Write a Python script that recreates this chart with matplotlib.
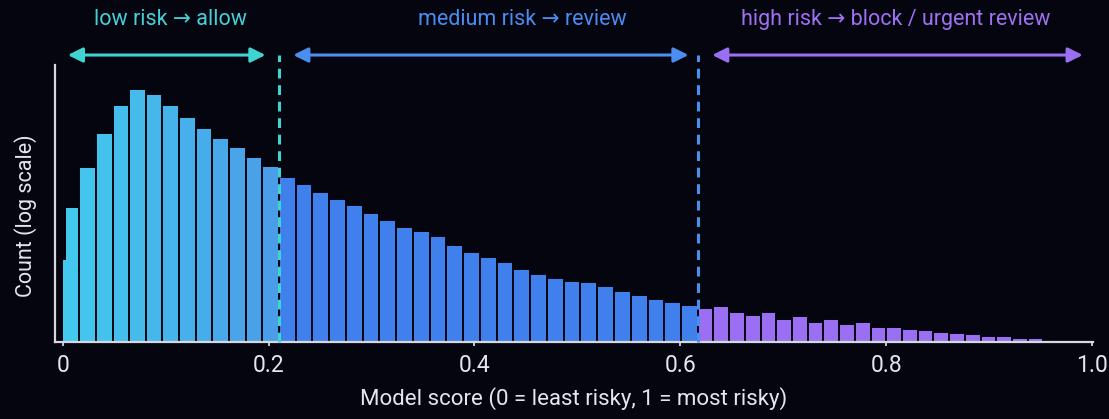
import numpy as np
import matplotlib
matplotlib.use("Agg")
import matplotlib.pyplot as plt
from matplotlib.ticker import NullLocator, FixedLocator
from matplotlib.colors import to_rgb

# ---------------- data ----------------
low_threshold = 0.21
high_threshold = 0.617
high_last_edge = 0.968          # right edge of the last non-empty bin
first_bin_split = 0.003         # the first bin is drawn as a thin sliver + bar
first_sliver_count = 3020

low_counts = [25900, 146000, 585000, 1900000, 3640000, 2960000, 1900000,
              1170000, 738000, 475000, 335000, 216000, 150000]
medium_counts = [94000, 70300, 51600, 38100, 29700, 21000, 15900, 12100,
                 10200, 8200, 5600, 4160, 3470, 2750, 2100, 1690, 1450,
                 1280, 1200, 1030, 830, 705, 597, 527, 466]
high_counts = [406, 447, 344, 307, 344, 257, 295, 230, 257, 209, 227, 189,
               184, 169, 165, 153, 144, 138, 128, 130, 117, 118, 109]

xtick_values = [0, 0.2, 0.4, 0.6, 0.8, 1.0]
xtick_labels = ["0", "0.2", "0.4", "0.6", "0.8", "1.0"]

region_labels = ["low risk \u2192 allow", "medium risk \u2192 review",
                 "high risk \u2192 block / urgent review"]

# ---------------- style ----------------
BG = "#04050f"
LOW_C0 = "#42c9ed"
LOW_C1 = "#4a9de8"
MED_C = "#4080ec"
HIGH_C = "#9a6ff2"
LOW_LINE = "#3fd4d2"
MED_LINE = "#4a8ff0"
LOW_TXT = "#45cfd6"
MED_TXT = "#4a8cf2"
HIGH_TXT = "#a070f2"
FG = "#e4e6ee"
FONT = ["Roboto", "DejaVu Sans"]

plt.rcParams["font.family"] = FONT

fig = plt.figure(figsize=(11.09, 4.19), dpi=100, facecolor=BG)
ax = fig.add_axes([55 / 1109, 1 - 342 / 419, (1093 - 55) / 1109, (342 - 65) / 419])
ax.set_facecolor(BG)

# bin edges
low_edges = np.linspace(0, low_threshold, len(low_counts) + 1)
med_edges = np.linspace(low_threshold, high_threshold, len(medium_counts) + 1)
high_edges = np.linspace(high_threshold, high_last_edge, len(high_counts) + 1)

c0 = np.array(to_rgb(LOW_C0))
c1 = np.array(to_rgb(LOW_C1))
n_low = len(low_counts)
low_colors = [tuple(c0 + (c1 - c0) * i / (n_low - 1)) for i in range(n_low)]

ekw = dict(align="edge", edgecolor=BG, linewidth=1.4)

# first bin: thin sliver + main part, drawn without a gap between them
ax.bar(low_edges[0], first_sliver_count, width=first_bin_split - low_edges[0],
       color=low_colors[0], align="edge", linewidth=0)
ax.bar(first_bin_split, low_counts[0], width=low_edges[1] - first_bin_split,
       color=low_colors[0], align="edge", linewidth=0)
ax.bar(low_edges[1:-1], low_counts[1:], width=np.diff(low_edges)[1:],
       color=low_colors[1:], **ekw)
ax.bar(med_edges[:-1], medium_counts, width=np.diff(med_edges), color=MED_C, **ekw)
ax.bar(high_edges[:-1], high_counts, width=np.diff(high_edges), color=HIGH_C, **ekw)

ax.set_yscale("log")
ax.set_ylim(100, 1e7)
ax.set_xlim(-(62.7 - 55) / 1029.2, 1 + 1 / 1029.2)

ax.yaxis.set_major_locator(NullLocator())
ax.yaxis.set_minor_locator(NullLocator())
ax.xaxis.set_major_locator(FixedLocator(xtick_values))
ax.xaxis.set_minor_locator(NullLocator())
ax.set_xticklabels(xtick_labels)
ax.tick_params(axis="x", colors=FG, labelsize=16.5, length=3, width=1.2, pad=6)

for s in ["top", "right"]:
    ax.spines[s].set_visible(False)
for s in ["left", "bottom"]:
    ax.spines[s].set_color("#d6d8df")
    ax.spines[s].set_linewidth(1.6)

ax.set_xlabel("Model score (0 = least risky, 1 = most risky)", color=FG,
              fontsize=16, labelpad=7)
ax.set_ylabel("Count (log scale)", color=FG, fontsize=15.5)
ax.yaxis.set_label_coords(-0.017, 0.455)

# threshold lines
top_y = 1.036
ax.axvline(low_threshold, ymin=0, ymax=top_y, color=LOW_LINE, lw=2.2,
           ls=(0, (3.2, 2.2)), clip_on=False, zorder=5)
ax.axvline(high_threshold, ymin=0, ymax=top_y, color=MED_LINE, lw=2.2,
           ls=(0, (3.2, 2.2)), clip_on=False, zorder=5)

# region arrows
arrow_spans = [(0.005, low_threshold - 0.013, LOW_LINE),
               (low_threshold + 0.014, high_threshold - 0.009, MED_LINE),
               (high_threshold + 0.014, 0.991, HIGH_C)]
for x0, x1, col in arrow_spans:
    ax.annotate("", xy=(x1, top_y), xytext=(x0, top_y),
                xycoords=("data", "axes fraction"),
                textcoords=("data", "axes fraction"),
                arrowprops=dict(arrowstyle="<|-|>", color=col, lw=2.2,
                                mutation_scale=22, shrinkA=0, shrinkB=0),
                annotation_clip=False)

label_pos = [0.105, 0.447, 0.809]
label_cols = [LOW_TXT, MED_TXT, HIGH_TXT]
for txt, xp, col in zip(region_labels, label_pos, label_cols):
    ax.text(xp, 1.163, txt, transform=ax.get_xaxis_transform(), ha="center",
            va="center", color=col, fontsize=15.5, family=FONT, clip_on=False)

fig.savefig("out.png", dpi=100, facecolor=BG)
